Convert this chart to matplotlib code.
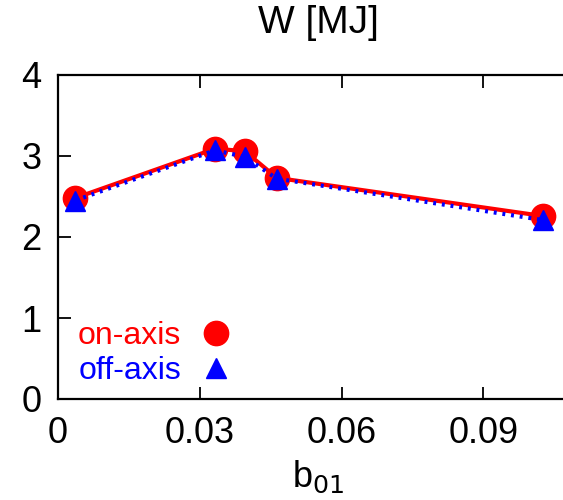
import matplotlib
matplotlib.use("Agg")
import matplotlib.pyplot as plt
from matplotlib.lines import Line2D

plt.rcParams["font.family"] = ["Liberation Sans", "DejaVu Sans"]
plt.rcParams["font.size"] = 22

# stored energy vs b01
b01 = [0.0036, 0.0332, 0.0395, 0.0463, 0.1025]
w_on = [2.48, 3.09, 3.06, 2.73, 2.26]
w_off = [2.45, 3.07, 2.99, 2.72, 2.21]

x_ticks = [0, 0.03, 0.06, 0.09]
x_ticklabels = ["0", "0.03", "0.06", "0.09"]
y_ticks = [0, 1, 2, 3, 4]

W, H = 563, 500
fig = plt.figure(figsize=(W / 100, H / 100), dpi=100)
x0, x1 = 58, 578
y_top, y_bot = 75, 399
ax = fig.add_axes([x0 / W, (H - y_bot) / H, (x1 - x0) / W, (y_bot - y_top) / H])

ax.plot(b01, w_on, color="red", lw=3.0, ls="-", marker="o", ms=17.5,
        mec="red", mfc="red", zorder=3)
ax.plot(b01, w_off, color="blue", lw=3.0, ls=(0, (0.7, 1.4)), marker="^",
        ms=15, mec="blue", mfc="blue", zorder=4)

ax.set_xlim(0, 0.11)
ax.set_ylim(0, 4)
ax.set_xticks(x_ticks)
ax.set_xticklabels(x_ticklabels)
ax.set_yticks(y_ticks)
ax.tick_params(direction="in", length=9, width=1.3, top=True, right=True,
               labelsize=26, pad=12)
for s in ax.spines.values():
    s.set_linewidth(1.6)

ax.set_title("W [MJ]", fontsize=28, pad=30)
ax.set_xlabel("b$_{01}$", fontsize=26, labelpad=6)

handles = [
    Line2D([], [], ls="none", marker="o", ms=17.5, color="red"),
    Line2D([], [], ls="none", marker="^", ms=15, color="blue"),
]
leg = ax.legend(handles, ["on-axis", "off-axis"], loc="lower left",
                bbox_to_anchor=(0.038, 0.04), markerfirst=False, frameon=False,
                fontsize=23, handlelength=1.0, handletextpad=0.6,
                labelspacing=0.15, borderaxespad=0, borderpad=0)
for txt, c in zip(leg.get_texts(), ["red", "blue"]):
    txt.set_color(c)

fig.savefig("out.png", dpi=100)
